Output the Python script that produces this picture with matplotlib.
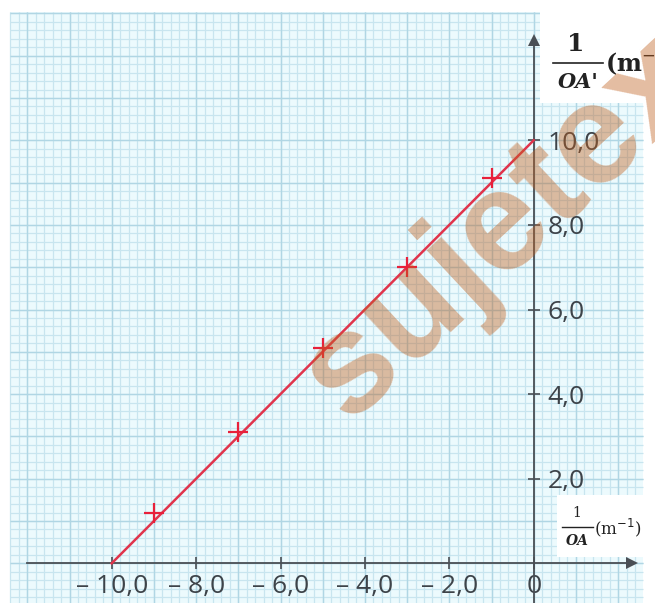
import numpy as np
import matplotlib
matplotlib.use("Agg")
import matplotlib.pyplot as plt
from matplotlib.patches import Rectangle
from matplotlib.lines import Line2D
from matplotlib.ticker import FixedLocator, FuncFormatter

# ---------------- data ----------------
inv_OA = [-9.0, -7.0, -5.0, -3.0, -1.0]          # 1/OA (m^-1)
inv_OAp = [1.2, 3.1, 5.1, 7.0, 9.1]              # 1/OA' (m^-1)
fit_x = [-10.0, 0.0]
fit_y = [0.0, 10.0]
xtick_vals = [-10.0, -8.0, -6.0, -4.0, -2.0, 0.0]
ytick_vals = [2.0, 4.0, 6.0, 8.0, 10.0]

# ---------------- figure / layout ----------------
W, H = 655, 603
fig = plt.figure(figsize=(W / 100, H / 100), dpi=100)
ax = fig.add_axes([0, 0, 1, 1])
fig.patch.set_facecolor("white")
ax.set_facecolor("white")

X0PX, SX = 533.7, 42.2      # pixel of x=0, px per unit
Y0PX, SY = 563.3, 42.3
ax.set_xlim(-X0PX / SX, (W - X0PX) / SX)
ax.set_ylim(-(H - Y0PX) / SY, Y0PX / SY)

def dx(px):
    return (px - X0PX) / SX

def dy(py):
    return (Y0PX - py) / SY

# graph paper
gx0, gx1, gy0, gy1 = dx(10), dx(643), dy(603), dy(12)
ax.add_patch(Rectangle((gx0, gy0), gx1 - gx0, gy1 - gy0, facecolor="#ecfafd",
                       edgecolor="none", zorder=0))
minor = np.round(np.arange(np.ceil(gx0 / 0.2) * 0.2, gx1, 0.2), 3)
ax.vlines(minor, gy0, gy1, colors="#c8e5ef", linewidth=0.9, zorder=0.2)
minor_y = np.round(np.arange(np.ceil(gy0 / 0.2) * 0.2, gy1, 0.2), 3)
ax.hlines(minor_y, gx0, gx1, colors="#c8e5ef", linewidth=0.9, zorder=0.2)
major = np.arange(np.ceil(gx0), gx1, 1.0)
ax.vlines(major, gy0, gy1, colors="#b0d6e4", linewidth=1.0, zorder=0.3)
major_y = np.arange(np.ceil(gy0), gy1, 1.0)
ax.hlines(major_y, gx0, gx1, colors="#b0d6e4", linewidth=1.0, zorder=0.3)

# white label boxes
ax.add_patch(Rectangle((dx(540), dy(103)), dx(660) - dx(540), dy(12) - dy(103),
                       facecolor="white", edgecolor="none", zorder=0.5))
ax.add_patch(Rectangle((dx(557), dy(557)), dx(660) - dx(557), dy(495) - dy(557),
                       facecolor="white", edgecolor="none", zorder=0.5))

# axes through origin
axcol = "#4a4f55"
for s in ["top", "left"]:
    ax.spines[s].set_visible(False)
ax.spines["bottom"].set_position(("data", 0))
ax.spines["right"].set_position(("data", 0))
ax.spines["bottom"].set_bounds(dx(27), dx(632))
ax.spines["right"].set_bounds(dy(603), dy(40))
for s in ["bottom", "right"]:
    ax.spines[s].set_color(axcol)
    ax.spines[s].set_linewidth(1.3)
    ax.spines[s].set_zorder(2)
ax.yaxis.tick_right()
ax.plot(dx(632), 0, marker=">", markersize=9, color=axcol, clip_on=False, zorder=2,
        markeredgewidth=0)
ax.plot(0, dy(40), marker="^", markersize=9, color=axcol, clip_on=False, zorder=2,
        markeredgewidth=0)

def xfmt(v, pos):
    if v == 0:
        return "0"
    return "\u2013 " + f"{abs(v):.1f}".replace(".", ",")

def yfmt(v, pos):
    return f"{v:.1f}".replace(".", ",")

ax.xaxis.set_major_locator(FixedLocator(xtick_vals))
ax.xaxis.set_major_formatter(FuncFormatter(xfmt))
ax.yaxis.set_major_locator(FixedLocator(ytick_vals))
ax.yaxis.set_major_formatter(FuncFormatter(yfmt))
ax.tick_params(axis="x", direction="inout", length=8, width=1.2, color=axcol, pad=4)
ax.tick_params(axis="y", direction="inout", length=8, width=1.2, color=axcol, pad=6)
for lab in ax.get_xticklabels() + ax.get_yticklabels():
    lab.set_fontfamily(["Open Sans", "DejaVu Sans"])
    lab.set_fontsize(19)
    lab.set_color("#3d4349")

# data
ax.plot(fit_x, fit_y, color="#e0344c", linewidth=1.8, zorder=3)
ax.plot(inv_OA, inv_OAp, linestyle="none", marker="+", markersize=15,
        markeredgewidth=1.6, color="#e8203a", zorder=4)

# axis labels (fractions)
serif = ["DejaVu Serif"]
def fx(px):
    return px / W

def fy(py):
    return 1 - py / H

fig.text(fx(576), fy(44), "1", family=serif, weight="bold", size=18,
         ha="center", va="center", color="#222")
fig.add_artist(Line2D([fx(553), fx(603)], [fy(63), fy(63)], color="#222", linewidth=1.2))
fig.text(fx(578), fy(82), "OA'", family=serif, weight="bold", style="italic", size=15,
         ha="center", va="center", color="#222")
fig.text(fx(605), fy(63), r"(m$^{-1}$)", family=serif, weight="bold", size=17,
         ha="left", va="center", color="#222")

fig.text(fx(577), fy(513), "1", family=serif, size=10,
         ha="center", va="center", color="#222")
fig.add_artist(Line2D([fx(562), fx(593)], [fy(527), fy(527)], color="#222", linewidth=1.0))
fig.text(fx(577), fy(541), "OA", family=serif, weight="bold", style="italic", size=10,
         ha="center", va="center", color="#222")
fig.text(fx(594), fy(528), r"(m$^{-1}$)", family=serif, size=12,
         ha="left", va="center", color="#222")

# watermark
fig.text(fx(349), fy(423), "sujetexa", family=["Liberation Sans", "DejaVu Sans"],
         weight="bold", size=103, rotation=43, rotation_mode="anchor",
         ha="left", va="baseline", color="#c0601f", alpha=0.42, zorder=10)

fig.savefig("out.png", dpi=100, facecolor="white")
